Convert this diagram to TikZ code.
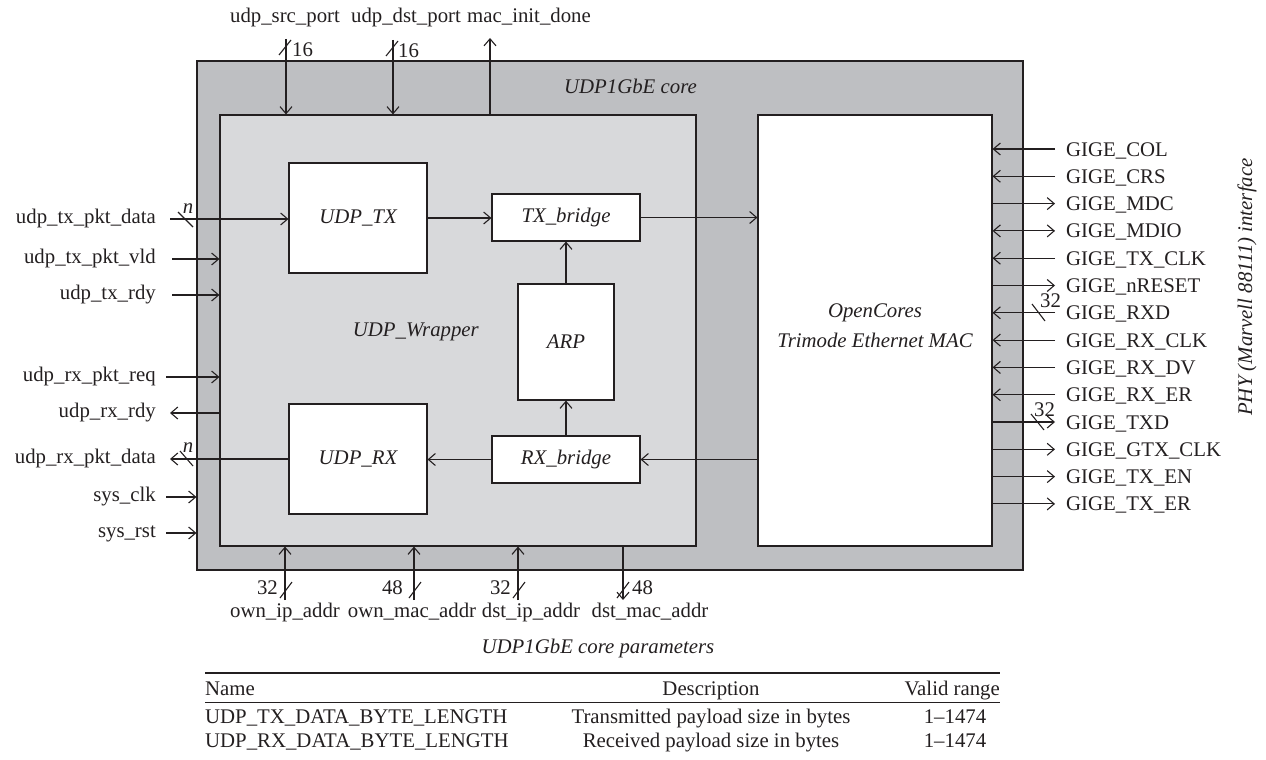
\documentclass[tikz,border=0pt]{standalone}
\usepackage{fontspec}
\setmainfont{Liberation Serif}
\usetikzlibrary{arrows.meta}
\definecolor{outerg}{RGB}{190,191,194}
\definecolor{innerg}{RGB}{216,217,219}
\definecolor{ink}{RGB}{35,31,32}
\begin{document}
\begin{tikzpicture}[x=1pt,y=-1pt,
  every node/.style={font=\fontsize{20.8}{25}\selectfont, text=ink, inner sep=0pt},
  sig/.style={draw=ink, line width=1.1pt},
  tipR/.style={sig,-{Straight Barb[length=7pt,width=12pt]}},
  tipLR/.style={sig,{Straight Barb[length=7pt,width=12pt]}-{Straight Barb[length=7pt,width=12pt]}},
  blk/.style={draw=ink, line width=1.1pt, fill=white},
  lblL/.style={anchor=base east},
  lblR/.style={anchor=base west},
  lblC/.style={anchor=base}]
\useasboundingbox (0,0) rectangle (1266,760);

% containers
\node[draw=ink, line width=1.1pt, fill=outerg, minimum width=826pt, minimum height=509pt] (core) at (610,315.5) {};
\node[draw=ink, line width=1.1pt, fill=innerg, minimum width=476pt, minimum height=431pt] (wrap) at (458,330.5) {};
\node[blk, minimum width=234pt, minimum height=431pt] (mac) at (875,330.5) {};
\node[align=center] (mactxt) at (875,326) {\itshape OpenCores\\[5pt]\itshape Trimode Ethernet MAC};
\node[anchor=base east] (coretxt) at (697,93) {\itshape UDP1GbE core};
\node[anchor=base east] (wraptxt) at (479,336) {\itshape UDP\_Wrapper};

% blocks
\node[blk, minimum width=138pt, minimum height=110pt] (udptx) at (358,218) {\itshape UDP\_TX};
\node[blk, minimum width=148pt, minimum height=47pt] (txb) at (566,217.5) {\itshape TX\_bridge};
\node[blk, minimum width=96pt, minimum height=116pt] (arp) at (566,342) {\itshape ARP};
\node[blk, minimum width=148pt, minimum height=47pt] (rxb) at (566,459.5) {\itshape RX\_bridge};
\node[blk, minimum width=138pt, minimum height=110pt] (udprx) at (358,459) {\itshape UDP\_RX};

% internal connectors
\draw[tipR] (udptx.east) -- (udptx.east -| txb.west);
\draw[tipR] (txb.east) -- (txb.east -| mac.west);
\draw[tipR] (arp.north) -- (arp.north |- txb.south);
\draw[tipR] (rxb.north) -- (rxb.north |- arp.south);
\draw[tipR] (rxb.east -| mac.west) -- (rxb.east);
\draw[tipR] (rxb.west) -- (rxb.west -| udprx.east);

% left signals
\coordinate (a1) at (170,219);
\coordinate (a2) at (172,259);
\coordinate (a3) at (172,295);
\coordinate (a4) at (166,377);
\coordinate (a5) at (170,413);
\coordinate (a6) at (170,459);
\coordinate (a7) at (166,497);
\coordinate (a8) at (166,533);
\node[lblL] (la1) at (156,223.5) {udp\_tx\_pkt\_data};
\node[lblL] (la2) at (156,263.5) {udp\_tx\_pkt\_vld};
\node[lblL] (la3) at (156,299.5) {udp\_tx\_rdy};
\node[lblL] (la4) at (156,381.5) {udp\_rx\_pkt\_req};
\node[lblL] (la5) at (156,417.5) {udp\_rx\_rdy};
\node[lblL] (la6) at (156,463.5) {udp\_rx\_pkt\_data};
\node[lblL] (la7) at (156,501.5) {sys\_clk};
\node[lblL] (la8) at (156,537.5) {sys\_rst};
\draw[tipR] (a1) -- (a1 -| udptx.west);
\draw[tipR] (a2) -- (a2 -| wrap.west);
\draw[tipR] (a3) -- (a3 -| wrap.west);
\draw[tipR] (a4) -- (a4 -| wrap.west);
\draw[tipR] (a5 -| wrap.west) -- (a5);
\draw[tipR] (a6 -| udprx.west) -- (a6);
\draw[tipR] (a7) -- (a7 -| core.west);
\draw[tipR] (a8) -- (a8 -| core.west);
\draw[sig] (178,212) -- (193,227);
\node[lblC] (n1) at (188,213) {\itshape n};
\draw[sig] (180,451) -- (193,466);
\node[lblC] (n2) at (188,452) {\itshape n};

% top signals
\coordinate (t1) at (286,39);
\coordinate (t2) at (393,40);
\coordinate (t3) at (490,38);
\node[lblC] (lt1) at (285,23) {udp\_src\_port};
\node[lblC] (lt2) at (406,23) {udp\_dst\_port};
\node[lblC] (lt3) at (529,23) {mac\_init\_done};
\draw[tipR] (t1) -- (t1 |- wrap.north);
\draw[tipR] (t2) -- (t2 |- wrap.north);
\draw[tipR] (t3 |- wrap.north) -- (t3);
\draw[sig] (279,55) -- (291,40);
\node[lblR] (w1) at (292,57) {16};
\draw[sig] (386,56) -- (398,41);
\node[lblR] (w2) at (398,58) {16};

% bottom signals
\coordinate (b1) at (285,600);
\coordinate (b2) at (414,600);
\coordinate (b3) at (518,600);
\coordinate (b4) at (623,600);
\draw[tipR] (b1) -- (b1 |- wrap.south);
\draw[tipR] (b2) -- (b2 |- wrap.south);
\draw[tipR] (b3) -- (b3 |- wrap.south);
\draw[tipR] (b4 |- wrap.south) -- (b4);
\draw[sig] (280,598) -- (292,582);
\draw[sig] (409,598) -- (421,582);
\draw[sig] (513,598) -- (525,582);
\draw[sig] (617,598) -- (629,582);
\node[lblL] (w3) at (278,594) {32};
\node[lblL] (w4) at (403,594) {48};
\node[lblL] (w5) at (511,594) {32};
\node[lblR] (w6) at (632,594) {48};
\node[lblC] (lb1) at (285,617) {own\_ip\_addr};
\node[lblC] (lb2) at (412,617) {own\_mac\_addr};
\node[lblC] (lb3) at (531,617) {dst\_ip\_addr};
\node[lblC] (lb4) at (650,617) {dst\_mac\_addr};

% right signals
\coordinate (r0) at (1055,149);
\coordinate (r1) at (1055,176.3);
\coordinate (r2) at (1055,203.6);
\coordinate (r3) at (1055,230.9);
\coordinate (r4) at (1055,258.2);
\coordinate (r5) at (1055,285.5);
\coordinate (r6) at (1055,312.8);
\coordinate (r7) at (1055,340.1);
\coordinate (r8) at (1055,367.4);
\coordinate (r9) at (1055,394.7);
\coordinate (r10) at (1055,422);
\coordinate (r11) at (1055,449.3);
\coordinate (r12) at (1055,476.6);
\coordinate (r13) at (1055,503.9);
\draw[tipR] (r0) -- (r0 -| mac.east);
\draw[tipR] (r1) -- (r1 -| mac.east);
\draw[tipR] (r2 -| mac.east) -- (r2);
\draw[tipLR] (r3 -| mac.east) -- (r3);
\draw[tipR] (r4) -- (r4 -| mac.east);
\draw[tipR] (r5 -| mac.east) -- (r5);
\draw[tipR] (r6) -- (r6 -| mac.east);
\draw[tipR] (r7) -- (r7 -| mac.east);
\draw[tipR] (r8) -- (r8 -| mac.east);
\draw[tipR] (r9) -- (r9 -| mac.east);
\draw[tipR] (r10 -| mac.east) -- (r10);
\draw[tipR] (r11 -| mac.east) -- (r11);
\draw[tipR] (r12 -| mac.east) -- (r12);
\draw[tipR] (r13 -| mac.east) -- (r13);
\node[lblR] (g0) at (1066,156) {GIGE\_COL};
\node[lblR] (g1) at (1066,183.3) {GIGE\_CRS};
\node[lblR] (g2) at (1066,210.6) {GIGE\_MDC};
\node[lblR] (g3) at (1066,237.9) {GIGE\_MDIO};
\node[lblR] (g4) at (1066,265.2) {GIGE\_TX\_CLK};
\node[lblR] (g5) at (1066,292.5) {GIGE\_nRESET};
\node[lblR] (g6) at (1066,319.8) {GIGE\_RXD};
\node[lblR] (g7) at (1066,347.1) {GIGE\_RX\_CLK};
\node[lblR] (g8) at (1066,374.4) {GIGE\_RX\_DV};
\node[lblR] (g9) at (1066,401.7) {GIGE\_RX\_ER};
\node[lblR] (g10) at (1066,429) {GIGE\_TXD};
\node[lblR] (g11) at (1066,456.3) {GIGE\_GTX\_CLK};
\node[lblR] (g12) at (1066,483.6) {GIGE\_TX\_EN};
\node[lblR] (g13) at (1066,510.9) {GIGE\_TX\_ER};
\draw[sig] (1032,304) -- (1045,321);
\node[lblR] (w7) at (1040,307.5) {32};
\draw[sig] (1031,414) -- (1044,430);
\node[lblR] (w8) at (1034,416.5) {32};
\node[rotate=90] (phy) at (1247,287) {\itshape PHY (Marvell 88111) interface};

% table
\node[lblC] (cap) at (598,653) {\itshape UDP1GbE core parameters};
\draw[draw=ink, line width=1.5pt] (205,673) -- (1000,673);
\draw[draw=ink, line width=0.8pt] (205,702) -- (1000,702);
\node[lblR] (h1) at (205,695) {Name};
\node[lblC] (h2) at (711,695) {Description};
\node[lblL] (h3) at (1000,695) {Valid range};
\node[lblR] (c11) at (205,723) {UDP\_TX\_DATA\_BYTE\_LENGTH};
\node[lblC] (c12) at (711,723) {Transmitted payload size in bytes};
\node[lblC] (c13) at (955,723) {1–1474};
\node[lblR] (c21) at (205,747) {UDP\_RX\_DATA\_BYTE\_LENGTH};
\node[lblC] (c22) at (711,747) {Received payload size in bytes};
\node[lblC] (c23) at (955,747) {1–1474};
\end{tikzpicture}
\end{document}
